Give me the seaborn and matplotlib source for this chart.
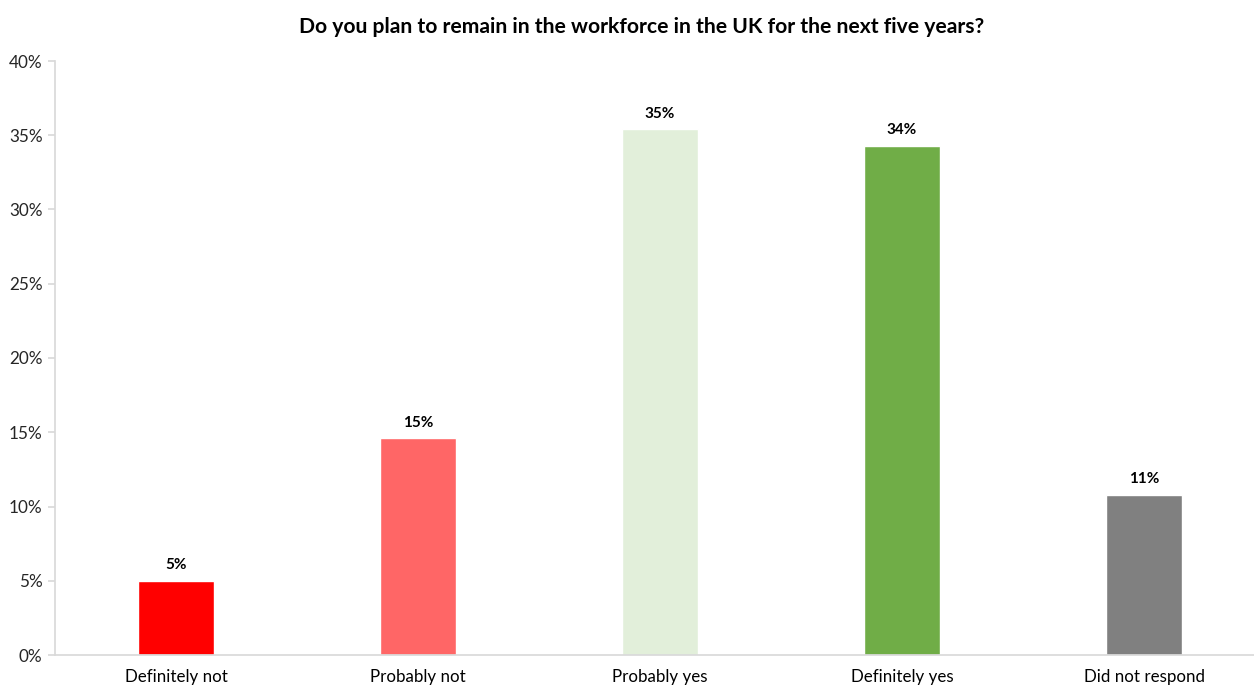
import matplotlib
matplotlib.use("Agg")
import matplotlib.pyplot as plt
import seaborn as sns
import pandas as pd
from matplotlib.ticker import PercentFormatter

categories = ["Definitely not", "Probably not", "Probably yes", "Definitely yes", "Did not respond"]
shares = [5.0, 14.6, 35.4, 34.3, 10.8]
colors = ["#FF0000", "#FF6666", "#E2EFDA", "#70AD47", "#808080"]
title = "Do you plan to remain in the workforce in the UK for the next five years?"

sns.set_theme(style="white")
plt.rcParams["font.family"] = ["Lato", "DejaVu Sans"]

df = pd.DataFrame({"answer": categories, "share": shares})

fig = plt.figure(figsize=(12.54, 6.85), dpi=100)
# plot area runs a little past the right edge of the canvas
ax = fig.add_axes([55 / 1254, 30 / 685, 1210 / 1254, 594 / 685])

sns.barplot(data=df, x="answer", y="share", hue="answer", palette=colors,
            width=0.314, legend=False, ax=ax, saturation=1)

for patch, v in zip(ax.patches, shares):
    ax.annotate(f"{v:.0f}%", (patch.get_x() + patch.get_width() / 2, v),
                xytext=(0, 6), textcoords="offset points", ha="center", va="bottom",
                fontsize=11, fontweight="bold", color="#000000")

ax.set_ylim(0, 40)
ax.set_yticks(range(0, 41, 5))
ax.yaxis.set_major_formatter(PercentFormatter(decimals=0))
ax.set_xlim(-0.5, 4.5)
ax.set_xlabel("")
ax.set_ylabel("")
fig.text(642 / 1254, 1 - 27 / 685, title, ha="center", va="center",
         fontsize=15.2, fontweight="bold", color="#000000")

for side in ["top", "right"]:
    ax.spines[side].set_visible(False)
ax.spines["left"].set_color("#D9D9D9")
ax.spines["bottom"].set_color("#D9D9D9")
ax.tick_params(axis="y", which="major", left=True, length=5, color="#D9D9D9",
               labelsize=12.3, labelcolor="#262626", pad=4)
ax.tick_params(axis="x", bottom=False, labelsize=12.2, labelcolor="#000000", pad=4)

fig.savefig("out.png", dpi=100)
